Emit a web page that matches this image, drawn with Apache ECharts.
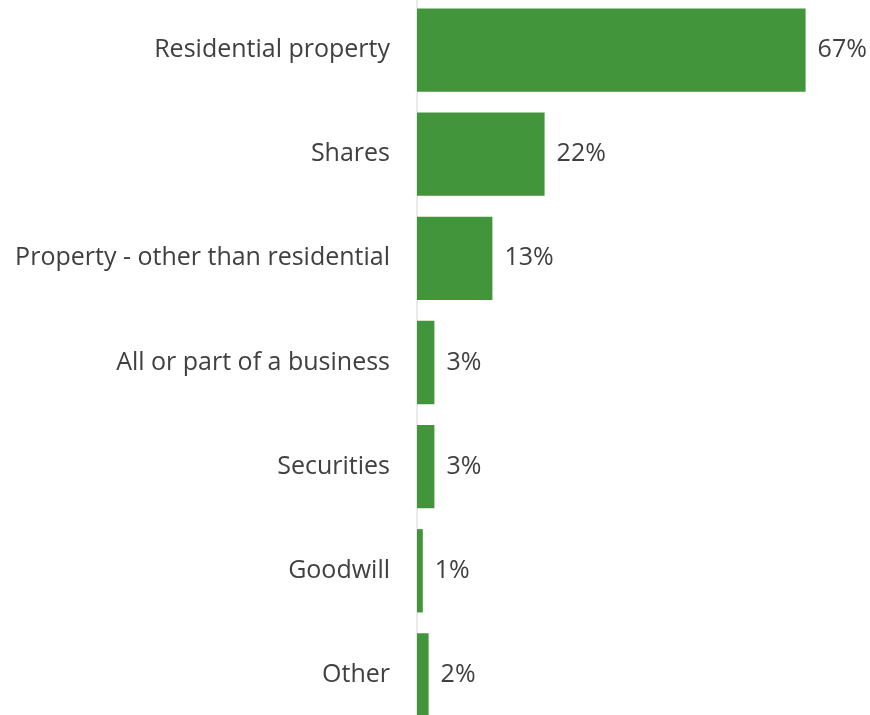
<!DOCTYPE html>
<html>
<head>
<meta charset="utf-8">
<script src="https://cdn.jsdelivr.net/npm/echarts@6/dist/echarts.min.js"></script>
<style>
  html, body { margin: 0; padding: 0; background: #ffffff; overflow: hidden; }
  /* The plot runs slightly past the top and bottom edges of the page */
  #chart { position: absolute; left: 0; top: -2px; width: 870px; height: 729px; }
</style>
</head>
<body>
<div id="chart"></div>
<script>
// Asset categories, top to bottom
const categories = [
  'Residential property',
  'Shares',
  'Property - other than residential',
  'All or part of a business',
  'Securities',
  'Goodwill',
  'Other'
];
// Share of respondents, in percent
const shareValues = [67, 22, 13, 3, 3, 1, 2];

const FONT = 'Open Sans';
const TEXT_COLOR = '#404040';

const chart = echarts.init(document.getElementById('chart'), null, { renderer: 'canvas' });
chart.setOption({
  animation: false,
  backgroundColor: '#ffffff',
  grid: { left: 417, top: 0, right: 47, bottom: 0, containLabel: false },
  xAxis: {
    type: 'value',
    min: 0,
    max: 70,
    show: false
  },
  yAxis: {
    type: 'category',
    data: categories,
    inverse: true,
    axisLine: { show: true, lineStyle: { color: '#e3e3e3', width: 1.5 } },
    axisTick: { show: false },
    axisLabel: {
      margin: 27,
      color: TEXT_COLOR,
      fontFamily: FONT,
      fontSize: 25,
      padding: [4, 0, 0, 0]
    },
    splitLine: { show: false }
  },
  series: [{
    type: 'bar',
    data: shareValues,
    barCategoryGap: '20%',
    itemStyle: { color: '#43953c' },
    label: {
      show: true,
      position: 'right',
      distance: 12,
      formatter: (p) => p.value + '%',
      color: TEXT_COLOR,
      fontFamily: FONT,
      fontSize: 25,
      padding: [4, 0, 0, 0]
    }
  }]
});
</script>
</body>
</html>
